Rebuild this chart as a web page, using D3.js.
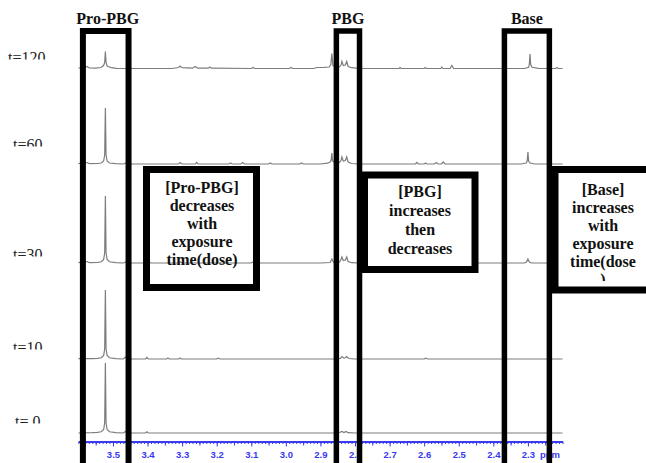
<!DOCTYPE html>
<html>
<head>
<meta charset="utf-8">
<script src="https://cdn.jsdelivr.net/npm/d3@7"></script>
<style>
  body { margin: 0; background: white; }
  .regionLabel, .noteText, .timeLabel { font-family: "Liberation Serif", "Times New Roman", serif; }
  .regionLabel, .noteText { font-weight: bold; font-size: 16px; fill: #111; }
  .timeLabel { font-size: 16px; fill: #222; }
  .ppmAxis text { font-family: "Liberation Sans", Arial, sans-serif; font-weight: bold; font-size: 9.5px; fill: #3838f0; }
</style>
</head>
<body>
<svg class="svgMain" width="646" height="463"></svg>
<script>
// Stacked 1H NMR traces, Pro-PBG / PBG / Base regions.

// ---- data ----
var traceLabels = ["t=120", "t=60", "t=30", "t=10", "t= 0"];
var tickLabels = [3.5, 3.4, 3.3, 3.2, 3.1, 3.0, 2.9, 2.8, 2.7, 2.6, 2.5, 2.4, 2.3];
var regionLabels = ["Pro-PBG", "PBG", "Base"];
var regionPpm = [[3.587, 3.455], [2.854, 2.787], [2.368, 2.238]];

// [ppm, intensity]
var trace120 = [[3.600,0.5],[3.585,0.5],[3.575,2],[3.568,0.5],[3.550,0.3],[3.535,1],[3.527,3],[3.524,6],[3.522,17],[3.520,6],[3.517,2.5],[3.505,0.8],[3.490,0.2],
  [3.330,0],[3.310,1],[3.306,2.5],[3.300,0.8],[3.270,0.3],[3.262,2],[3.255,0.3],[3.225,0.3],[3.220,1.5],[3.215,0.3],[3.100,0],[3.095,1],[3.090,0],
  [2.990,0],[2.985,1],[2.980,0],[2.920,0],[2.910,1],[2.890,1.2],[2.875,1.5],[2.870,4],[2.867,15],[2.864,3],[2.855,1.5],[2.845,1.5],[2.840,4],[2.838,7],
  [2.834,3],[2.828,3.5],[2.824,7],[2.820,2],[2.810,0.8],[2.790,0.2],[2.672,0],[2.670,1],[2.667,0],[2.600,0],[2.597,1],[2.594,0],[2.552,0],[2.549,1.5],
  [2.546,0],[2.525,0],[2.520,3],[2.515,0],[2.310,0],[2.298,1.2],[2.296,4],[2.294,14.5],[2.292,4],[2.288,1.2],[2.270,0.2],[2.220,0],[2.216,1],[2.212,0],[2.200,0]];
var trace60 = [[3.600,0.3],[3.575,1.5],[3.568,0.3],[3.545,0.5],[3.534,1],[3.527,3],[3.524,9],[3.522,56],[3.520,9],[3.517,3],[3.510,1],[3.492,0.3],[3.470,0],
  [3.462,1],[3.455,0],[3.310,0],[3.306,1.5],[3.300,0],[3.262,0],[3.258,1.5],[3.254,0],[3.165,0],[3.160,1],[3.155,0],[3.130,0],[3.125,1.5],[3.120,0],
  [3.050,0],[3.045,1],[3.040,0],[2.960,0],[2.955,1],[2.950,0],[2.900,0],[2.880,0.8],[2.872,2],[2.869,4],[2.867,11],[2.865,3],[2.858,1],[2.845,1.5],
  [2.840,4],[2.838,7],[2.834,3],[2.828,3.5],[2.824,7],[2.820,2],[2.810,0.5],[2.790,0],[2.625,0],[2.621,1.5],[2.617,0],[2.600,0],[2.596,1],[2.592,0],
  [2.570,0],[2.565,1.5],[2.560,0],[2.550,0],[2.545,2],[2.540,0],[2.320,0],[2.305,1],[2.302,3],[2.300,12],[2.298,3],[2.294,1],[2.280,0],[2.200,0]];
var trace30 = [[3.600,0.3],[3.575,1.5],[3.568,0.3],[3.545,0.5],[3.534,1.2],[3.527,3.5],[3.524,10],[3.522,67],[3.520,10],[3.517,3.5],[3.510,1.2],[3.492,0.3],
  [3.470,0],[3.462,1],[3.455,0],[3.400,0],[3.396,1],[3.390,0],[3.310,0],[3.306,1],[3.300,0],[3.100,0],[3.096,0.8],[3.090,0],[2.900,0],[2.872,0.5],
  [2.867,4],[2.862,0.5],[2.845,0.8],[2.840,4],[2.838,6],[2.834,2.5],[2.828,3],[2.824,6],[2.820,1.5],[2.810,0.3],[2.790,0],[2.520,0],[2.516,1],[2.510,0],
  [2.310,0],[2.304,1],[2.300,4],[2.296,1],[2.290,0],[2.200,0]];
var trace10 = [[3.600,0.3],[3.560,0.3],[3.545,0.6],[3.534,1.2],[3.527,3.5],[3.524,10],[3.522,69],[3.520,10],[3.517,3.5],[3.510,1.2],[3.492,0.3],[3.470,0],
  [3.464,2],[3.458,0],[3.406,0],[3.402,1.5],[3.398,0],[3.345,0],[3.341,1],[3.337,0],[3.310,0],[3.306,1],[3.302,0],[3.200,0],[3.196,0.8],[3.190,0],
  [2.860,0],[2.842,0.6],[2.838,2.5],[2.832,1],[2.828,1.2],[2.824,2.5],[2.818,0.5],[2.800,0],[2.600,0],[2.596,0.8],[2.590,0],[2.200,0]];
var trace0 = [[3.600,0],[3.560,0.3],[3.545,0.6],[3.534,1.2],[3.527,3.5],[3.524,10],[3.522,70],[3.520,10],[3.517,3.5],[3.510,1.2],[3.492,0.3],[3.470,0],
  [3.464,1.5],[3.458,0],[3.406,0],[3.402,1.2],[3.398,0],[2.860,0],[2.845,0.5],[2.838,1.5],[2.832,0.5],[2.826,1.5],[2.820,0.3],[2.800,0],[2.200,0]];
var traces = [trace120, trace60, trace30, trace10, trace0];

var notes = [
    ["[Pro-PBG]", "decreases", "with", "exposure", "time(dose)"],
    ["[PBG]", "increases", "then", "decreases"],
    ["[Base]", "increases", "with", "exposure", "time(dose", ")"]
];

// ---- layout ----
var BASELINES = [68.5, 164, 263, 359, 433];
var LABEL_X = [8, 13, 13, 13, 15];
var LABEL_CLIP = [59.5, 146.5, 256.5, 349.5, 423.5];
var REGION_LABEL_SHIFT = [2, 0, 0];
var AXIS_Y = 441.5;
var NOTE_BOXES = [ // x, y, w, h, fill, text center, first baseline, line step, text clip
    {x: 146.5, y: 169.5, w: 110, h: 118, fill: "none", cx: 202, y0: 193, dy: 18, clip: 290},
    {x: 364.5, y: 175, w: 110.5, h: 94.5, fill: "white", cx: 420, y0: 197, dy: 19, clip: 270},
    {x: 555, y: 169.5, w: 100, h: 120.5, fill: "white", cx: 603, y0: 195, dy: 18, clip: 281}
];

var svg = d3.select(".svgMain");

var x = d3.scaleLinear().domain([3.60, 2.20]).range([78.4, 562.5]);
var y = d3.scaleLinear().domain([0, 100]).range([0, -100]);

var line = d3.line()
    .x(function (d) { return x(d[0]); })
    .y(function (d) { return y(d[1]); });

// traces
for (let i = 0; i < traces.length; i++) {
    svg.append("path")
        .attr("transform", "translate(0," + BASELINES[i] + ")")
        .attr("d", line(traces[i]))
        .attr("fill", "none")
        .attr("stroke", "#7d7d7d")
        .attr("stroke-width", 1.2);
}

// time labels, bottom cut off
for (let i = 0; i < traceLabels.length; i++) {
    svg.append("clipPath").attr("id", "lab" + i)
        .append("rect").attr("x", 0).attr("y", 0).attr("width", 70).attr("height", LABEL_CLIP[i]);
    svg.append("text")
        .attr("class", "timeLabel")
        .attr("clip-path", "url(#lab" + i + ")")
        .attr("x", LABEL_X[i]).attr("y", LABEL_CLIP[i] + 3)
        .text(traceLabels[i]);
}

// ppm axis
var minorTicks = d3.range(0, 141).map(function (i) { return +(3.6 - i * 0.01).toFixed(2); });
var axisG = svg.append("g").attr("class", "ppmAxis").attr("transform", "translate(0," + AXIS_Y + ")");
axisG.append("g")
    .call(d3.axisBottom(x).tickValues(minorTicks).tickSize(2.5).tickSizeOuter(0).tickFormat(""));
axisG.append("g")
    .call(d3.axisBottom(x).tickValues(d3.range(3.55, 2.2, -0.1)).tickSize(4).tickSizeOuter(0).tickFormat(""));
axisG.append("g")
    .call(d3.axisBottom(x).tickValues(tickLabels).tickSize(5).tickPadding(5).tickSizeOuter(0).tickFormat(d3.format(".1f")));
axisG.selectAll("path.domain").attr("stroke", "#3838f0").attr("stroke-width", 1.5);
axisG.selectAll(".tick line").attr("stroke", "#3838f0");
axisG.append("text")
    .attr("x", 540).attr("y", 16.5)
    .text("ppm");

// region boxes
for (let i = 0; i < regionLabels.length; i++) {
    let x0 = x(regionPpm[i][0]), x1 = x(regionPpm[i][1]);
    svg.append("rect")
        .attr("x", x0).attr("y", 31)
        .attr("width", x1 - x0).attr("height", 450)
        .attr("fill", "none")
        .attr("stroke", "black")
        .attr("stroke-width", i == 0 ? 6 : 5.5);
    svg.append("text")
        .attr("class", "regionLabel")
        .attr("text-anchor", "middle")
        .attr("x", (x0 + x1) / 2 + REGION_LABEL_SHIFT[i]).attr("y", 24)
        .text(regionLabels[i]);
}

// note boxes
for (let i = 0; i < notes.length; i++) {
    let b = NOTE_BOXES[i];
    svg.append("rect")
        .attr("x", b.x).attr("y", b.y)
        .attr("width", b.w).attr("height", b.h)
        .attr("fill", b.fill)
        .attr("stroke", "black")
        .attr("stroke-width", 7);
    svg.append("clipPath").attr("id", "note" + i)
        .append("rect").attr("x", 0).attr("y", 0).attr("width", 646).attr("height", b.clip);
    let g = svg.append("g").attr("clip-path", "url(#note" + i + ")");
    for (let j = 0; j < notes[i].length; j++) {
        g.append("text")
            .attr("class", "noteText")
            .attr("text-anchor", "middle")
            .attr("x", b.cx).attr("y", b.y0 + b.dy * j)
            .text(notes[i][j]);
    }
}
</script>
</body>
</html>
